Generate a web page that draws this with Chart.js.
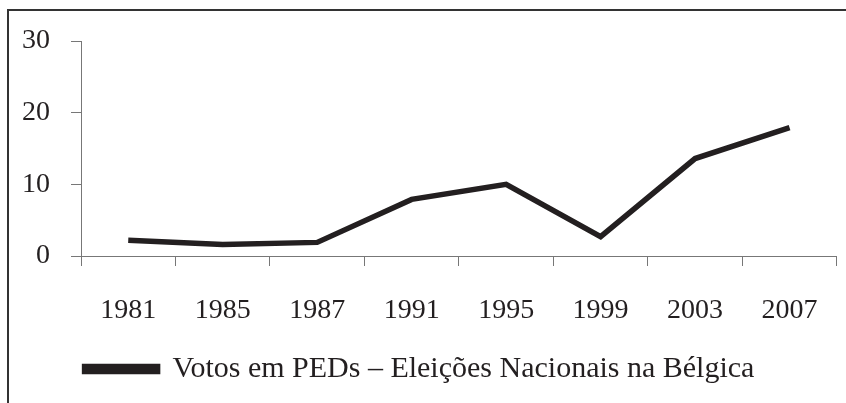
<!DOCTYPE html>
<html>
<head>
<meta charset="utf-8">
<script src="https://cdn.jsdelivr.net/npm/chart.js@4"></script>
<style>
  body { margin: 0; background: #fff; }
  #wrap { position: relative; width: 846px; height: 403px; }
  #frame { position: absolute; left: 7px; top: 9px; width: 860px; height: 420px;
           border-top: 2px solid #333; border-left: 2px solid #333; }
  canvas { position: absolute; left: 0; top: 0; }
</style>
</head>
<body>
<div id="wrap">
  <canvas id="chart" width="846" height="403"></canvas>
  <div id="frame"></div>
</div>
<script>
const years = ["1981", "1985", "1987", "1991", "1995", "1999", "2003", "2007"];
const votes = [2.2, 1.6, 1.9, 7.9, 10.0, 2.7, 13.6, 17.9];
const yTicks = [0, 10, 20, 30];
const seriesName = "Votos em PEDs – Eleições Nacionais na Bélgica";

const serif = "'Liberation Serif', 'Times New Roman', serif";
const tickFont = { family: serif, size: 28 };
const legendFont = { family: serif, size: 30 };
const ink = "#231f20";

const ctx = document.getElementById("chart").getContext("2d");
new Chart(ctx, {
  type: "line",
  data: {
    labels: years,
    datasets: [{
      label: seriesName,
      data: votes,
      borderColor: ink,
      backgroundColor: ink,
      borderWidth: 5.5,
      pointRadius: 0,
      tension: 0,
      borderJoinStyle: "miter"
    }]
  },
  options: {
    responsive: false,
    animation: false,
    layout: { padding: { top: 41, right: 7, left: 0, bottom: 9 } },
    plugins: {
      tooltip: { enabled: false },
      legend: {
        position: "bottom",
        labels: {
          color: ink,
          font: legendFont,
          boxWidth: 73,
          boxHeight: 5,
          padding: 10
        }
      }
    },
    scales: {
      x: {
        offset: true,
        grid: { offset: true, drawOnChartArea: false, drawTicks: true, tickLength: 10, color: "#777" },
        border: { color: "#777", width: 1 },
        ticks: { color: ink, font: tickFont, padding: 28, maxRotation: 0 },
        afterFit: function(scale) { scale.height = 88; }
      },
      y: {
        min: 0,
        max: 30,
        afterBuildTicks: function(scale) { scale.ticks = yTicks.map(v => ({ value: v })); },
        grid: { drawOnChartArea: false, drawTicks: true, tickLength: 10, color: "#777" },
        border: { color: "#777", width: 1 },
        ticks: { color: ink, font: tickFont, padding: 21 },
        afterFit: function(scale) { scale.width = 81; }
      }
    }
  }
});
</script>
</body>
</html>
